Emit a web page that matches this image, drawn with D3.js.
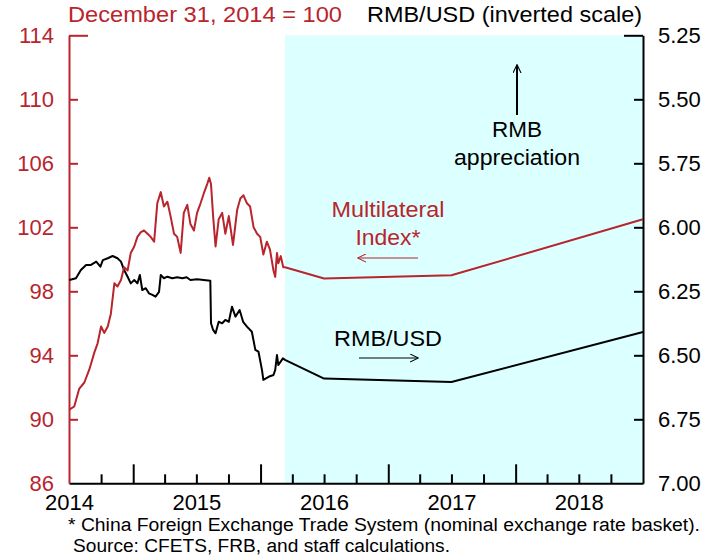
<!DOCTYPE html>
<html>
<head>
<meta charset="utf-8">
<script src="https://cdn.jsdelivr.net/npm/d3@7"></script>
<style>
  body { margin: 0; background: #fff; }
  svg { display: block; font-family: "Liberation Sans", Arial, sans-serif; }
  .axis text { font-size: 22px; }
</style>
</head>
<body>
<div id="canvas"></div>
<script>
var red = "#b8252d";

// CFETS multilateral index, Dec 31 2014 = 100 (left scale)
var indexData = [
  ["2014-07-02",90.6],["2014-07-16",90.8],["2014-07-30",91.9],["2014-08-14",92.3],["2014-08-28",93.1],
  ["2014-09-12",94.2],["2014-09-21",94.75],["2014-10-01",95.8],["2014-10-10",95.4],["2014-10-20",95.8],
  ["2014-10-29",96.6],["2014-11-08",98.5],["2014-11-17",98.3],["2014-11-27",98.7],["2014-12-06",99.5],
  ["2014-12-16",99.3],["2014-12-25",100.4],["2015-01-04",100.8],["2015-01-13",101.4],["2015-01-23",101.7],
  ["2015-02-01",101.8],["2015-02-11",101.6],["2015-02-20",101.4],["2015-03-02",101.1],["2015-03-11",103.5],
  ["2015-03-21",104.2],["2015-03-30",103.3],["2015-04-09",103.6],["2015-04-18",102.7],["2015-04-28",101.6],
  ["2015-05-07",101.4],["2015-05-17",100.4],["2015-05-26",102.9],["2015-06-05",103.4],["2015-06-14",102.2],
  ["2015-06-24",101.8],["2015-07-03",102.9],["2015-07-13",103.5],["2015-07-22",104.1],["2015-08-01",104.7],
  ["2015-08-07",105.1],["2015-08-12",104.7],["2015-08-18",102.7],["2015-08-25",100.8],["2015-09-03",102.5],
  ["2015-09-13",102.9],["2015-09-22",101.6],["2015-10-02",102.7],["2015-10-14",100.9],["2015-10-26",103.1],
  ["2015-11-04",103.8],["2015-11-13",104.0],["2015-11-23",103.5],["2015-12-02",103.3],["2015-12-12",102.0],
  ["2015-12-22",101.6],["2015-12-31",101.4],["2016-01-09",100.3],["2016-01-19",101.1],["2016-01-28",100.6],
  ["2016-02-07",99.3],["2016-02-12",98.9],["2016-02-17",100.4],["2016-02-21",99.75],["2016-02-28",100.2],
  ["2016-03-06",99.5],["2016-03-11",99.5],
  ["2016-07-01",98.8],["2017-07-01",99.0],["2019-01-01",102.5]
];

// RMB per USD (right scale, inverted)
var rmbData = [
  ["2014-07-02",6.206],["2014-07-21",6.199],["2014-08-04",6.167],["2014-08-19",6.147],["2014-09-02",6.147],
  ["2014-09-17",6.134],["2014-09-29",6.154],["2014-10-06",6.128],["2014-10-20",6.121],["2014-11-03",6.112],
  ["2014-11-17",6.121],["2014-11-27",6.134],["2014-12-06",6.167],["2014-12-16",6.193],["2014-12-25",6.219],
  ["2015-01-04",6.206],["2015-01-13",6.219],["2015-01-20",6.186],["2015-01-27",6.245],["2015-02-06",6.238],
  ["2015-02-15",6.258],["2015-02-25",6.264],["2015-03-06",6.271],["2015-03-16",6.252],["2015-03-21",6.186],
  ["2015-03-30",6.199],["2015-04-09",6.193],["2015-04-23",6.199],["2015-05-07",6.195],["2015-05-22",6.199],
  ["2015-06-03",6.195],["2015-06-14",6.206],["2015-07-03",6.203],["2015-08-10",6.209],["2015-08-12",6.375],
  ["2015-08-18",6.401],["2015-08-25",6.414],["2015-09-03",6.369],["2015-09-13",6.375],["2015-09-22",6.362],
  ["2015-10-02",6.369],["2015-10-11",6.310],["2015-10-21",6.349],["2015-11-02",6.323],["2015-11-12",6.369],
  ["2015-11-23",6.388],["2015-12-07",6.408],["2015-12-17",6.479],["2015-12-26",6.486],["2016-01-05",6.557],
  ["2016-01-09",6.596],["2016-01-24",6.584],["2016-02-07",6.577],["2016-02-12",6.557],["2016-02-17",6.499],
  ["2016-02-21",6.538],["2016-03-05",6.512],["2016-03-11",6.518],
  ["2016-07-01",6.591],["2017-07-01",6.604],["2019-01-01",6.409]
];

var leftTicks = [86, 90, 94, 98, 102, 106, 110, 114];
var rightTicks = [5.25, 5.50, 5.75, 6.00, 6.25, 6.50, 6.75, 7.00];
var yearLabels = ["2014", "2015", "2016", "2017", "2018"];
var shadeStart = "2016-03-11", shadeEnd = "2019-01-01";

function draw() {
  var parse = d3.timeParse("%Y-%m-%d");
  var width = 721, height = 558;
  var margin = {top: 35.3, right: 78, bottom: 74.7, left: 69};

  var svg = d3.select("#canvas").append("svg")
      .attr("width", width)
      .attr("height", height);

  var x = d3.scaleTime()
      .domain([parse("2014-07-01"), parse("2019-01-01")])
      .range([margin.left, width - margin.right]);
  var yL = d3.scaleLinear().domain([86, 114]).range([height - margin.bottom, margin.top]);
  var yR = d3.scaleLinear().domain([7.00, 5.25]).range([height - margin.bottom, margin.top]);

  // shaded projection period
  svg.append("rect")
      .attr("x", x(parse(shadeStart)))
      .attr("y", margin.top)
      .attr("width", x(parse(shadeEnd)) - x(parse(shadeStart)))
      .attr("height", yL(86) - margin.top)
      .attr("fill", "#dcffff");

  // bottom axis: quarter ticks, taller ticks at January
  var quarters = d3.timeMonth.every(3).range(parse("2014-10-01"), parse("2019-01-01"));
  svg.append("g")
      .attr("class", "axis")
      .attr("transform", "translate(0," + yL(86) + ")")
      .call(d3.axisBottom(x).tickValues(quarters).tickSizeOuter(0).tickFormat(""))
      .call(function(g) {
        g.select(".domain").attr("stroke-width", 2);
        g.selectAll(".tick line")
          .attr("stroke-width", 2)
          .attr("y2", function(d) { return d.getMonth() === 0 ? -19 : -9; });
      });

  svg.append("g")
      .attr("class", "axis")
      .attr("transform", "translate(0," + yL(86) + ")")
      .call(d3.axisBottom(x)
        .tickValues(yearLabels.map(function(y) { return parse(y + "-07-01"); }))
        .tickSize(0).tickPadding(11).tickFormat(d3.timeFormat("%Y")))
      .call(function(g) {
        g.select(".domain").remove();
        g.selectAll("text").attr("fill", "#000");
      });

  // left axis (red)
  svg.append("g")
      .attr("class", "axis")
      .attr("transform", "translate(" + margin.left + ",0)")
      .call(d3.axisLeft(yL).tickValues(leftTicks).tickSizeInner(-9).tickSizeOuter(0).tickPadding(15))
      .call(function(g) {
        g.select(".domain").attr("stroke", red).attr("stroke-width", 2);
        g.selectAll(".tick line").attr("stroke", red).attr("stroke-width", 2)
          .attr("x2", function(d) { return d === 114 ? 19 : (d === 86 ? 0 : 9); });
        g.selectAll("text").attr("fill", red);
      });

  // right axis (black)
  svg.append("g")
      .attr("class", "axis")
      .attr("transform", "translate(" + (width - margin.right) + ",0)")
      .call(d3.axisRight(yR).tickValues(rightTicks).tickSizeInner(-9).tickSizeOuter(0)
        .tickPadding(15).tickFormat(d3.format(".2f")))
      .call(function(g) {
        g.select(".domain").attr("stroke-width", 2);
        g.selectAll(".tick line").attr("stroke-width", 2)
          .attr("x2", function(d) { return d === 5.25 ? -19 : (d === 7 ? 0 : -9); });
        g.selectAll("text").attr("fill", "#000");
      });

  // series
  var lineL = d3.line()
      .x(function(d) { return x(parse(d[0])); })
      .y(function(d) { return yL(d[1]); });
  var lineR = d3.line()
      .x(function(d) { return x(parse(d[0])); })
      .y(function(d) { return yR(d[1]); });

  svg.append("path")
      .datum(rmbData)
      .attr("d", lineR)
      .attr("fill", "none")
      .attr("stroke", "#000")
      .attr("stroke-width", 2)
      .attr("stroke-linejoin", "round");

  svg.append("path")
      .datum(indexData)
      .attr("d", lineL)
      .attr("fill", "none")
      .attr("stroke", red)
      .attr("stroke-width", 2)
      .attr("stroke-linejoin", "round");

  // arrow markers
  var defs = svg.append("defs");
  [["arrRed", red], ["arrBlack", "#000"]].forEach(function(m) {
    defs.append("marker")
        .attr("id", m[0])
        .attr("viewBox", "0 -5 10 10")
        .attr("refX", 9).attr("refY", 0)
        .attr("markerWidth", 9).attr("markerHeight", 9)
        .attr("markerUnits", "userSpaceOnUse")
        .attr("orient", "auto")
      .append("path")
        .attr("d", "M0,-4.5L9.5,0L0,4.5")
        .attr("fill", "none")
        .attr("stroke", m[1])
        .attr("stroke-width", 1.2);
  });

  // texts are a bit wider in the original, so fit them to measured widths
  function label(txt, xPos, yPos, len, opts) {
    opts = opts || {};
    return svg.append("text")
        .attr("x", xPos).attr("y", yPos)
        .attr("font-size", opts.size || 22)
        .attr("fill", opts.fill || "#000")
        .attr("text-anchor", opts.anchor || "start")
        .attr("textLength", len)
        .attr("lengthAdjust", "spacingAndGlyphs")
        .text(txt);
  }

  // headers
  label("December 31, 2014 = 100", 68, 22, 274, {fill: red});
  label("RMB/USD (inverted scale)", 642, 22, 275, {anchor: "end"});

  // annotations
  svg.append("line")
      .attr("x1", 517).attr("y1", 115).attr("x2", 517).attr("y2", 65)
      .attr("stroke", "#000").attr("stroke-width", 2)
      .attr("marker-end", "url(#arrBlack)");
  label("RMB", 517, 137, 50, {anchor: "middle"});
  label("appreciation", 517, 165, 126, {anchor: "middle"});

  label("Multilateral", 388, 217, 113, {anchor: "middle", fill: red});
  label("Index*", 388, 245, 65, {anchor: "middle", fill: red});
  svg.append("line")
      .attr("x1", 418).attr("y1", 258).attr("x2", 358).attr("y2", 258)
      .attr("stroke", red).attr("stroke-width", 1.2)
      .attr("marker-end", "url(#arrRed)");

  label("RMB/USD", 388, 346, 108, {anchor: "middle"});
  svg.append("line")
      .attr("x1", 359).attr("y1", 358).attr("x2", 418).attr("y2", 358)
      .attr("stroke", "#000").attr("stroke-width", 1.2)
      .attr("marker-end", "url(#arrBlack)");

  // footnotes
  label("* China Foreign Exchange Trade System (nominal exchange rate basket).", 68, 531, 632, {size: 18});
  label("Source: CFETS, FRB, and staff calculations.", 73, 552, 377, {size: 18});
}

draw();
</script>
</body>
</html>
